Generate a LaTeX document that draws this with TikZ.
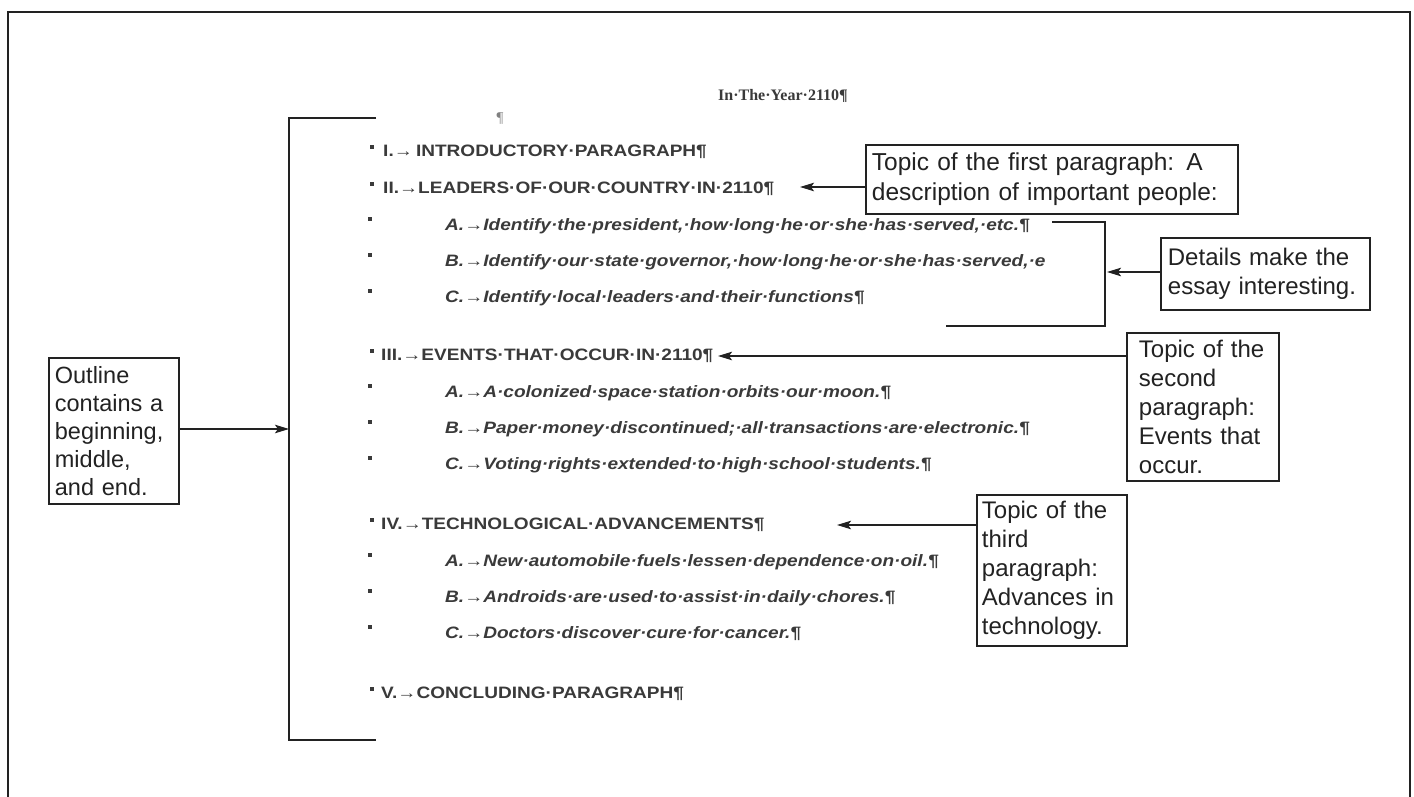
\documentclass[tikz,border=0pt]{standalone}
\usepackage{fontspec}
\setmainfont{Liberation Sans}
\newfontfamily\titlefont{Liberation Serif}
\newfontfamily\outf{Liberation Sans}
\usetikzlibrary{arrows.meta}
\definecolor{ink}{HTML}{222222}
\definecolor{doc}{HTML}{3A3A3A}
\newcommand\wide[1]{\scalebox{1.155}[1]{#1}}
\tikzset{
  frameline/.style={line width=2.8pt, draw=ink},
  brk/.style={line width=2pt, draw=ink},
  callout/.style={draw=ink, line width=1.8pt, anchor=north west, align=left, text=ink,
     font=\fontsize{24}{29}\selectfont, inner ysep=0pt},
  conn/.style={line width=1.8pt, draw=ink, -{Stealth[length=14pt,width=8.5pt,inset=3pt]}},
  head/.style={anchor=west, inner sep=0pt, text=doc, font=\outf\bfseries\fontsize{16.5}{17}\selectfont},
  sub/.style={anchor=west, inner sep=0pt, text=doc, font=\outf\bfseries\itshape\fontsize{16.5}{17}\selectfont},
  bul/.style={fill=doc, minimum size=4.5pt, inner sep=0pt, draw=none},
}
\begin{document}
\begin{tikzpicture}[x=1pt,y=-1pt]
\useasboundingbox (0,0) rectangle (1414,797);
\fill[white] (0,0) rectangle (1414,797);
% outer frame (open at the bottom)
\draw[frameline] (8,797) -- (8,12) -- (1410,12) -- (1410,797);

% title
\node[text=doc, font=\titlefont\bfseries\fontsize{16}{17}\selectfont, anchor=base] (title) at (783,101) {In·The·Year·2110¶};
\node[text=gray, font=\titlefont\fontsize{15}{16}\selectfont, anchor=base] (pil) at (500,123) {¶};

% outline rows
\node[head] (r1)  at (383,152) {\wide{I.→\,INTRODUCTORY·PARAGRAPH¶}};
\node[head] (r2)  at (383,189) {\wide{II.→LEADERS·OF·OUR·COUNTRY·IN·2110¶}};
\node[sub]  (r2a) at (445,226) {\wide{A.→Identify·the·president,·how·long·he·or·she·has·served,·etc.¶}};
\node[sub]  (r2b) at (445,262) {\wide{B.→Identify·our·state·governor,·how·long·he·or·she·has·served,·e}};
\node[sub]  (r2c) at (445,298) {\wide{C.→Identify·local·leaders·and·their·functions¶}};
\node[head] (r3)  at (381,356) {\wide{III.→EVENTS·THAT·OCCUR·IN·2110¶}};
\node[sub]  (r3a) at (445,393) {\wide{A.→A·colonized·space·station·orbits·our·moon.¶}};
\node[sub]  (r3b) at (445,429) {\wide{B.→Paper·money·discontinued;·all·transactions·are·electronic.¶}};
\node[sub]  (r3c) at (445,465) {\wide{C.→Voting·rights·extended·to·high·school·students.¶}};
\node[head] (r4)  at (381,525) {\wide{IV.→TECHNOLOGICAL·ADVANCEMENTS¶}};
\node[sub]  (r4a) at (445,562) {\wide{A.→New·automobile·fuels·lessen·dependence·on·oil.¶}};
\node[sub]  (r4b) at (445,598) {\wide{B.→Androids·are·used·to·assist·in·daily·chores.¶}};
\node[sub]  (r4c) at (445,634) {\wide{C.→Doctors·discover·cure·for·cancer.¶}};
\node[head] (r5)  at (381,694) {\wide{V.→CONCLUDING·PARAGRAPH¶}};

% bullets
\foreach \y in {147,184,351,520,689} \node[bul] at (372,\y) {};
\foreach \y in {219,255,291,386,422,458,555,591,627} \node[bul] at (370,\y) {};

% big bracket
\coordinate (bt) at (376,118);
\coordinate (bb) at (376,740);
\coordinate (bm) at (289,429);
\draw[brk] (bt) -- (289,118) -- (289,740) -- (bb);

% details bracket
\coordinate (dt) at (1052,222);
\coordinate (db) at (946,326);
\coordinate (dm) at (1105,272);
\draw[brk] (dt) -- (1105,222) -- (1105,326) -- (db);

% arrow tips
\coordinate (t2) at (800,187);
\coordinate (t3) at (718,356);
\coordinate (t4) at (837,525);

% callout boxes
\node[callout, minimum width=130pt, minimum height=146pt, text width=118pt, inner xsep=6pt,
      font=\fontsize{23.5}{28}\selectfont] (left) at (48,357)
  {Outline\\contains a\\beginning,\\middle,\\and end.};
\node[callout, minimum width=372pt, minimum height=69pt, text width=360pt, inner xsep=6pt,
      font=\fontsize{24.5}{30}\selectfont] (b1) at (865,144)
  {Topic of the first paragraph: A\\description of important people:};
\node[callout, minimum width=209pt, minimum height=72pt, text width=195pt, inner xsep=7pt] (det) at (1160,237)
  {Details make the\\essay interesting.};
\node[callout, minimum width=152pt, minimum height=148pt, text width=128pt, inner xsep=12pt] (b2) at (1126,332)
  {Topic of the\\second\\paragraph:\\Events that\\occur.};
\node[callout, minimum width=150pt, minimum height=151pt, text width=140pt, inner xsep=5pt] (b3) at (976,494)
  {Topic of the\\third\\paragraph:\\Advances in\\technology.};

% connectors
\draw[conn] (left.east |- bm) -- (bm);
\draw[conn] (b1.west |- t2) -- (t2);
\draw[conn] (det.west |- dm) -- ([xshift=2pt]dm);
\draw[conn] (b2.west |- t3) -- (t3);
\draw[conn] (b3.west |- t4) -- (t4);
\end{tikzpicture}
\end{document}
